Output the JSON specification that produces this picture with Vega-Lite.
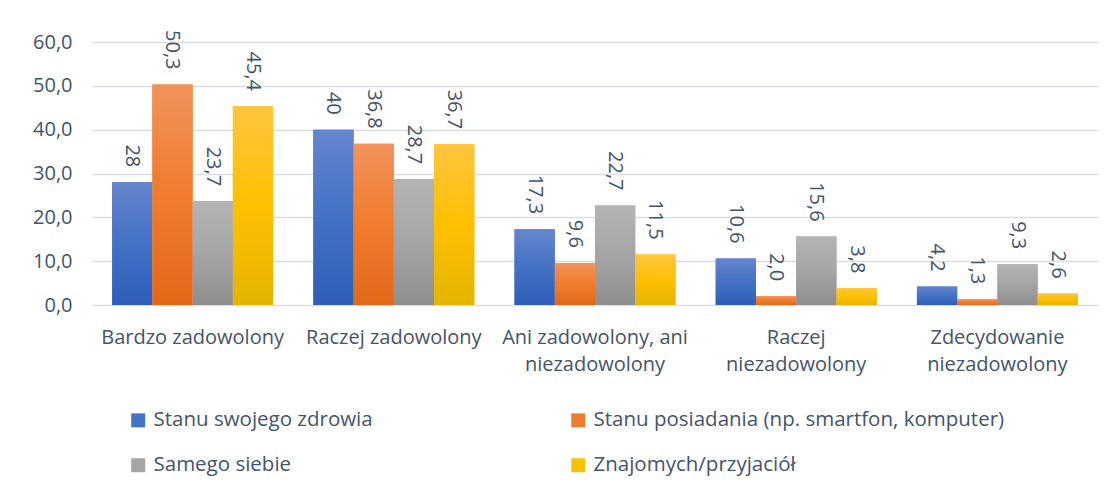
{
  "$schema": "https://vega.github.io/schema/vega-lite/v6.json",
  "width": 1006,
  "height": 263,
  "autosize": {"type": "none"},
  "padding": {"left": 92, "top": 42, "right": 16, "bottom": 187},
  "background": "white",
  "config": {
    "font": "Open Sans",
    "view": {"stroke": null},
    "axis": {"labelColor": "#44546a", "labelFont": "Open Sans", "labelFontSize": 20, "ticks": false, "domain": false}
  },
  "data": {
    "values": [
      {"kategoria": "Bardzo zadowolony", "seria": "Stanu swojego zdrowia", "wartosc": 28, "etykieta": "28"},
      {"kategoria": "Bardzo zadowolony", "seria": "Stanu posiadania (np. smartfon, komputer)", "wartosc": 50.3, "etykieta": "50,3"},
      {"kategoria": "Bardzo zadowolony", "seria": "Samego siebie", "wartosc": 23.7, "etykieta": "23,7"},
      {"kategoria": "Bardzo zadowolony", "seria": "Znajomych/przyjaciół", "wartosc": 45.4, "etykieta": "45,4"},
      {"kategoria": "Raczej zadowolony", "seria": "Stanu swojego zdrowia", "wartosc": 40, "etykieta": "40"},
      {"kategoria": "Raczej zadowolony", "seria": "Stanu posiadania (np. smartfon, komputer)", "wartosc": 36.8, "etykieta": "36,8"},
      {"kategoria": "Raczej zadowolony", "seria": "Samego siebie", "wartosc": 28.7, "etykieta": "28,7"},
      {"kategoria": "Raczej zadowolony", "seria": "Znajomych/przyjaciół", "wartosc": 36.7, "etykieta": "36,7"},
      {"kategoria": "Ani zadowolony, ani niezadowolony", "seria": "Stanu swojego zdrowia", "wartosc": 17.3, "etykieta": "17,3"},
      {"kategoria": "Ani zadowolony, ani niezadowolony", "seria": "Stanu posiadania (np. smartfon, komputer)", "wartosc": 9.6, "etykieta": "9,6"},
      {"kategoria": "Ani zadowolony, ani niezadowolony", "seria": "Samego siebie", "wartosc": 22.7, "etykieta": "22,7"},
      {"kategoria": "Ani zadowolony, ani niezadowolony", "seria": "Znajomych/przyjaciół", "wartosc": 11.5, "etykieta": "11,5"},
      {"kategoria": "Raczej niezadowolony", "seria": "Stanu swojego zdrowia", "wartosc": 10.6, "etykieta": "10,6"},
      {"kategoria": "Raczej niezadowolony", "seria": "Stanu posiadania (np. smartfon, komputer)", "wartosc": 2.0, "etykieta": "2,0"},
      {"kategoria": "Raczej niezadowolony", "seria": "Samego siebie", "wartosc": 15.6, "etykieta": "15,6"},
      {"kategoria": "Raczej niezadowolony", "seria": "Znajomych/przyjaciół", "wartosc": 3.8, "etykieta": "3,8"},
      {"kategoria": "Zdecydowanie niezadowolony", "seria": "Stanu swojego zdrowia", "wartosc": 4.2, "etykieta": "4,2"},
      {"kategoria": "Zdecydowanie niezadowolony", "seria": "Stanu posiadania (np. smartfon, komputer)", "wartosc": 1.3, "etykieta": "1,3"},
      {"kategoria": "Zdecydowanie niezadowolony", "seria": "Samego siebie", "wartosc": 9.3, "etykieta": "9,3"},
      {"kategoria": "Zdecydowanie niezadowolony", "seria": "Znajomych/przyjaciół", "wartosc": 2.6, "etykieta": "2,6"}
    ]
  },
  "encoding": {
    "x": {
      "field": "kategoria",
      "type": "nominal",
      "sort": ["Bardzo zadowolony", "Raczej zadowolony", "Ani zadowolony, ani niezadowolony", "Raczej niezadowolony", "Zdecydowanie niezadowolony"],
      "scale": {"paddingInner": 0.2, "paddingOuter": 0.1},
      "axis": {
        "title": null,
        "labelAngle": 0,
        "labelPadding": 22,
        "labelLineHeight": 27,
        "labelLimit": 300,
        "labelExpr": "datum.label == 'Ani zadowolony, ani niezadowolony' ? ['Ani zadowolony, ani', 'niezadowolony'] : datum.label == 'Raczej niezadowolony' ? ['Raczej', 'niezadowolony'] : datum.label == 'Zdecydowanie niezadowolony' ? ['Zdecydowanie', 'niezadowolony'] : datum.label"
      }
    },
    "xOffset": {
      "field": "seria",
      "type": "nominal",
      "scale": {
        "domain": ["Stanu swojego zdrowia", "Stanu posiadania (np. smartfon, komputer)", "Samego siebie", "Znajomych/przyjaciół"],
        "paddingInner": 0,
        "paddingOuter": 0
      }
    },
    "y": {
      "field": "wartosc",
      "type": "quantitative",
      "scale": {"domain": [0, 60], "nice": false},
      "axis": {
        "title": null,
        "values": [0, 10, 20, 30, 40, 50, 60],
        "grid": true,
        "gridColor": "#d9dde3",
        "gridWidth": 1.5,
        "labelPadding": 20,
        "labelExpr": "replace(format(datum.value, '.1f'), '.', ',')"
      }
    }
  },
  "layer": [
    {
      "mark": {"type": "bar"},
      "encoding": {
        "color": {
          "field": "seria",
          "type": "nominal",
          "scale": {
            "domain": ["Stanu swojego zdrowia", "Stanu posiadania (np. smartfon, komputer)", "Samego siebie", "Znajomych/przyjaciół"],
            "range": ["#4472c4", "#ed7d31", "#a5a5a5", "#ffc000"]
          },
          "legend": {
            "title": null,
            "orient": "none",
            "legendX": 36,
            "legendY": 368,
            "direction": "horizontal",
            "columns": 2,
            "symbolType": "square",
            "symbolSize": 196,
            "symbolStrokeWidth": 0,
            "labelOffset": 5,
            "labelFont": "Open Sans",
            "labelFontSize": 20.5,
            "labelColor": "#44546a",
            "labelLimit": 500,
            "columnPadding": 195,
            "rowPadding": 24
          }
        }
      }
    },
    {
      "transform": [{"filter": "datum.seria == 'Stanu swojego zdrowia'"}],
      "mark": {"type": "bar", "color": {"gradient": "linear", "x1": 0, "y1": 0, "x2": 0, "y2": 1, "stops": [{"offset": 0, "color": "#6586cf"}, {"offset": 0.5, "color": "#4472c4"}, {"offset": 1, "color": "#2e5dbb"}]}}
    },
    {
      "transform": [{"filter": "datum.seria == 'Stanu posiadania (np. smartfon, komputer)'"}],
      "mark": {"type": "bar", "color": {"gradient": "linear", "x1": 0, "y1": 0, "x2": 0, "y2": 1, "stops": [{"offset": 0, "color": "#f1925c"}, {"offset": 0.5, "color": "#f07c2c"}, {"offset": 1, "color": "#e26818"}]}}
    },
    {
      "transform": [{"filter": "datum.seria == 'Samego siebie'"}],
      "mark": {"type": "bar", "color": {"gradient": "linear", "x1": 0, "y1": 0, "x2": 0, "y2": 1, "stops": [{"offset": 0, "color": "#b4b4b4"}, {"offset": 0.5, "color": "#a5a5a5"}, {"offset": 1, "color": "#8e8e8e"}]}}
    },
    {
      "transform": [{"filter": "datum.seria == 'Znajomych/przyjaciół'"}],
      "mark": {"type": "bar", "color": {"gradient": "linear", "x1": 0, "y1": 0, "x2": 0, "y2": 1, "stops": [{"offset": 0, "color": "#ffc53f"}, {"offset": 0.5, "color": "#ffc000"}, {"offset": 1, "color": "#e3b400"}]}}
    },
    {
      "mark": {"type": "text", "angle": 90, "align": "right", "baseline": "middle", "dx": -15, "font": "Open Sans", "fontSize": 20, "color": "#44546a"},
      "encoding": {"text": {"field": "etykieta", "type": "nominal"}}
    }
  ]
}
